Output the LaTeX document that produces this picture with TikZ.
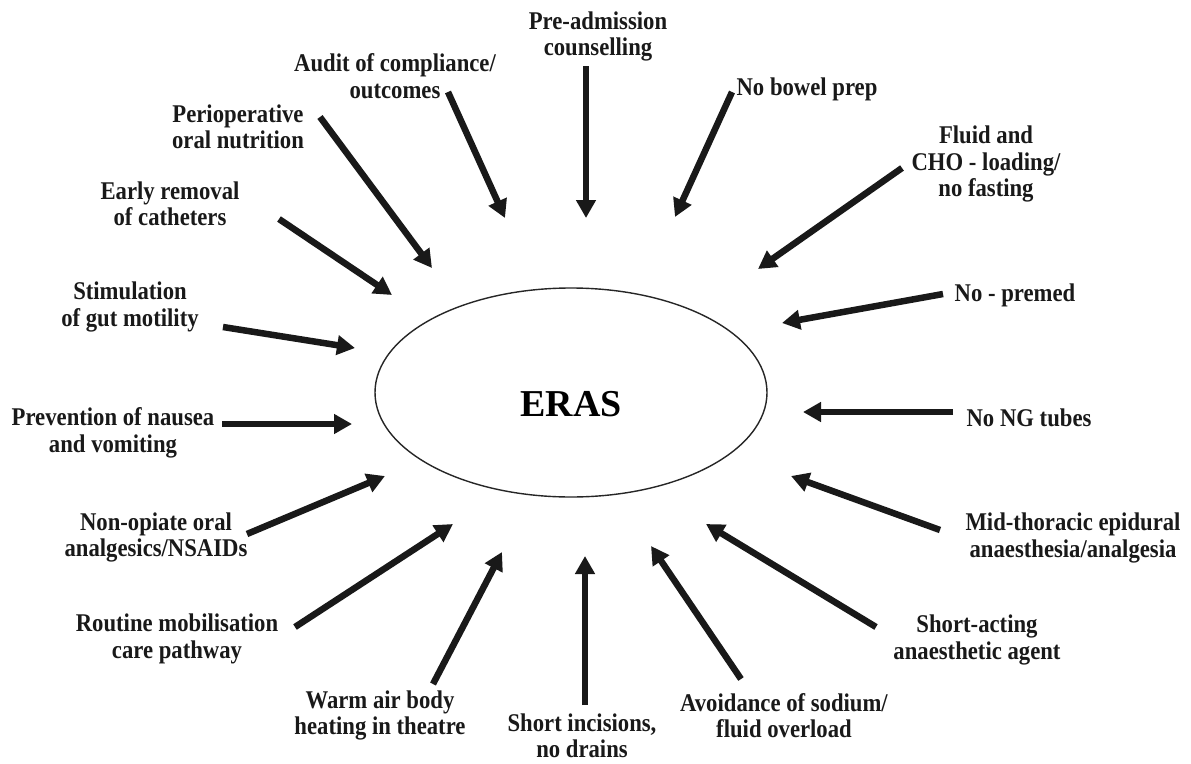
\documentclass[tikz,border=0pt]{standalone}
\usepackage{fontspec}
\setmainfont{Liberation Serif}
\newfontfamily\lblfont[FakeStretch=0.89]{Liberation Serif}
\usetikzlibrary{arrows.meta,shapes.geometric}
\begin{document}
\begin{tikzpicture}[x=1pt,y=-1pt,
  lbl/.style={font=\lblfont\bfseries\fontsize{25.5}{26.5}\selectfont, align=center, inner sep=0pt, text=black!90},
  arr/.style={line width=6.5pt, black!90, -{Triangle[length=18pt,width=19pt]}},
  hub/.style={ellipse, draw=black!85, line width=1.4pt, minimum width=392pt, minimum height=209pt, inner sep=0pt}]
\useasboundingbox (0,0) rectangle (1191,763);
\fill[white] (0,0) rectangle (1191,763);

\node[hub] (eras) at (571,392.5) {};
\node[font=\bfseries\fontsize{38}{40}\selectfont, inner sep=0pt, anchor=base] (erastext) at (571,416.5) {ERAS};

% labels
\node[lbl] (l1) at (598,36.5) {Pre-admission\\counselling};
\node[lbl] (l2) at (807,89) {No bowel prep};
\node[lbl] (l3) at (986,164) {Fluid and\\CHO - loading/\\no fasting};
\node[lbl] (l4) at (1015,295) {No - premed};
\node[lbl] (l5) at (1029,418) {No NG tubes};
\node[lbl] (l6) at (1073,538) {Mid-thoracic epidural\\anaesthesia/analgesia};
\node[lbl] (l7) at (977,640) {Short-acting\\anaesthetic agent};
\node[lbl] (l8) at (784,715.5) {Avoidance of sodium/\\fluid overload};
\node[lbl] (l9) at (582,736) {Short incisions,\\no drains};
\node[lbl] (l10) at (380,715.5) {Warm air body\\heating in theatre};
\node[lbl] (l11) at (177,639) {Routine mobilisation\\care pathway};
\node[lbl] (l12) at (156,537.5) {Non-opiate oral\\analgesics/NSAIDs};
\node[lbl] (l13) at (113,433) {Prevention of nausea\\and vomiting};
\node[lbl] (l14) at (130,307) {Stimulation\\of gut motility};
\node[lbl] (l15) at (170,204) {Early removal\\of catheters};
\node[lbl] (l16) at (238,127) {Perioperative\\oral nutrition};
\node[lbl] (l17) at (395,76) {Audit of compliance/\\outcomes};

% arrow tails and tips
\coordinate (t1) at (586,66);   \coordinate (h1) at (586,218);
\coordinate (t2) at (732,92);   \coordinate (h2) at (675,217);
\coordinate (t3) at (902,168);  \coordinate (h3) at (758,269);
\coordinate (t4) at (943,294);  \coordinate (h4) at (782,323);
\coordinate (t5) at (953,412);  \coordinate (h5) at (803,412);
\coordinate (t6) at (940,530);  \coordinate (h6) at (791,476);
\coordinate (t7) at (876,627);  \coordinate (h7) at (706,524);
\coordinate (t8) at (741,679);  \coordinate (h8) at (651,546);
\coordinate (t9) at (585,705);  \coordinate (h9) at (585,556);
\coordinate (t10) at (433,684); \coordinate (h10) at (502,552);
\coordinate (t11) at (295,627); \coordinate (h11) at (453,524);
\coordinate (t12) at (247,534); \coordinate (h12) at (385,476);
\coordinate (t13) at (222,424); \coordinate (h13) at (352,424);
\coordinate (t14) at (223,327); \coordinate (h14) at (355,348);
\coordinate (t15) at (279,219); \coordinate (h15) at (392,295);
\coordinate (t16) at (320,117); \coordinate (h16) at (432,268);
\coordinate (t17) at (448,92);  \coordinate (h17) at (505,218);

\foreach \i in {1,...,17} {\draw[arr] (t\i) -- (h\i);}
\end{tikzpicture}
\end{document}
